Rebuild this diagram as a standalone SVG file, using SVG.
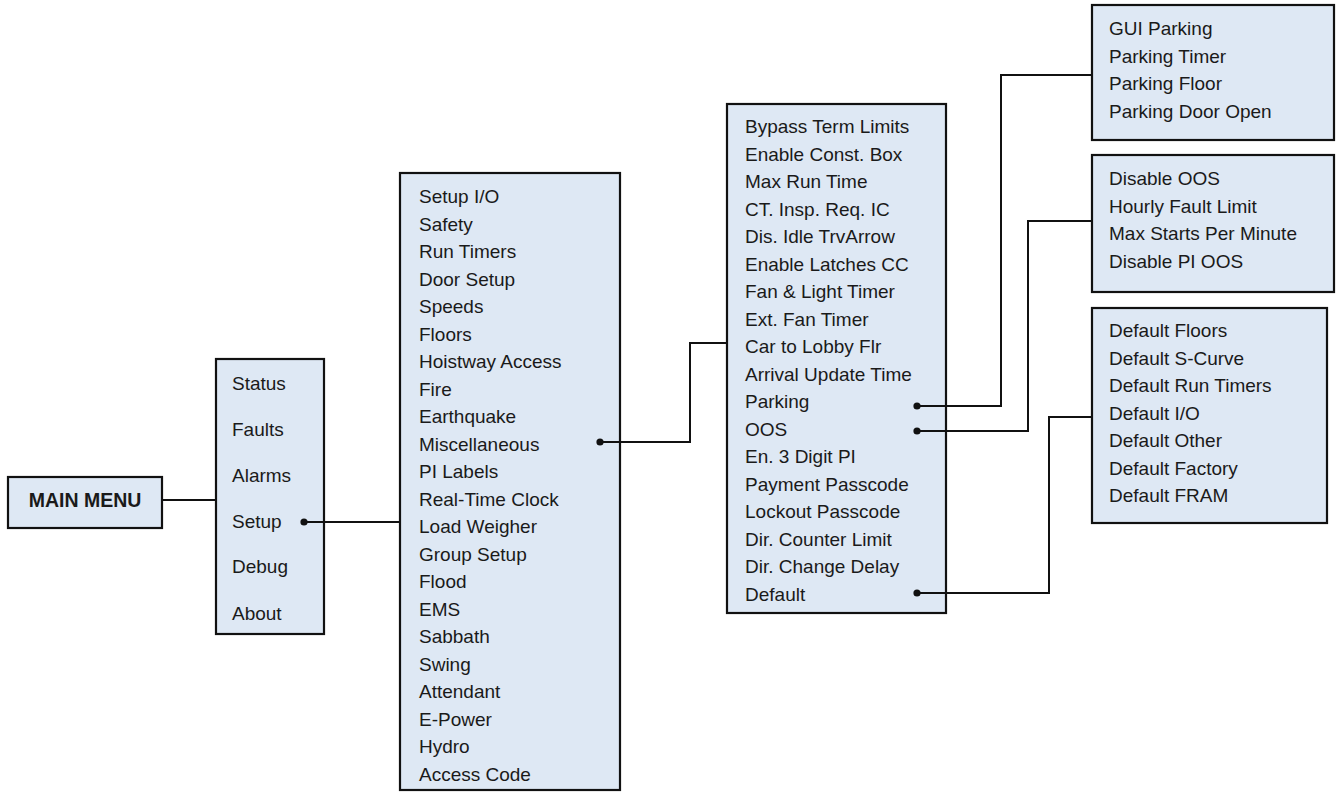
<svg xmlns="http://www.w3.org/2000/svg" width="1336" height="792" viewBox="0 0 1336 792">
<style>
.box{fill:#dee8f4;stroke:#111;stroke-width:2.2}
.t{font-family:"Liberation Sans",Arial,sans-serif;font-size:19px;fill:#1a1a1a}
.b{font-family:"Liberation Sans",Arial,sans-serif;font-size:19.5px;font-weight:bold;fill:#1a1a1a}
.c{fill:none;stroke:#111;stroke-width:2}
.d{fill:#111}
</style>
<rect width="1336" height="792" fill="#fff"/>
<g id="main-menu">
<rect class="box" x="8" y="477" width="154" height="51"/>
<text class="b" x="85" y="507" text-anchor="middle">MAIN MENU</text>
</g>
<g id="top-menu">
<rect class="box" x="216" y="359" width="108" height="275"/>
<text class="t" x="232" y="390">Status</text>
<text class="t" x="232" y="436">Faults</text>
<text class="t" x="232" y="482">Alarms</text>
<text class="t" x="232" y="528">Setup</text>
<text class="t" x="232" y="573">Debug</text>
<text class="t" x="232" y="620">About</text>
</g>
<g id="setup-menu">
<rect class="box" x="400" y="173" width="220" height="617"/>
<text class="t" x="419" y="203">Setup I/O</text>
<text class="t" x="419" y="230.5">Safety</text>
<text class="t" x="419" y="258">Run Timers</text>
<text class="t" x="419" y="285.5">Door Setup</text>
<text class="t" x="419" y="313">Speeds</text>
<text class="t" x="419" y="340.5">Floors</text>
<text class="t" x="419" y="368">Hoistway Access</text>
<text class="t" x="419" y="395.5">Fire</text>
<text class="t" x="419" y="423">Earthquake</text>
<text class="t" x="419" y="450.5">Miscellaneous</text>
<text class="t" x="419" y="478">PI Labels</text>
<text class="t" x="419" y="505.5">Real-Time Clock</text>
<text class="t" x="419" y="533">Load Weigher</text>
<text class="t" x="419" y="560.5">Group Setup</text>
<text class="t" x="419" y="588">Flood</text>
<text class="t" x="419" y="615.5">EMS</text>
<text class="t" x="419" y="643">Sabbath</text>
<text class="t" x="419" y="670.5">Swing</text>
<text class="t" x="419" y="698">Attendant</text>
<text class="t" x="419" y="725.5">E-Power</text>
<text class="t" x="419" y="753">Hydro</text>
<text class="t" x="419" y="780.5">Access Code</text>
</g>
<g id="misc-menu">
<rect class="box" x="727" y="104" width="219" height="509"/>
<text class="t" x="745" y="133">Bypass Term Limits</text>
<text class="t" x="745" y="160.5">Enable Const. Box</text>
<text class="t" x="745" y="188">Max Run Time</text>
<text class="t" x="745" y="215.5">CT. Insp. Req. IC</text>
<text class="t" x="745" y="243">Dis. Idle TrvArrow</text>
<text class="t" x="745" y="270.5">Enable Latches CC</text>
<text class="t" x="745" y="298">Fan &amp; Light Timer</text>
<text class="t" x="745" y="325.5">Ext. Fan Timer</text>
<text class="t" x="745" y="353">Car to Lobby Flr</text>
<text class="t" x="745" y="380.5">Arrival Update Time</text>
<text class="t" x="745" y="408">Parking</text>
<text class="t" x="745" y="435.5">OOS</text>
<text class="t" x="745" y="463">En. 3 Digit PI</text>
<text class="t" x="745" y="490.5">Payment Passcode</text>
<text class="t" x="745" y="518">Lockout Passcode</text>
<text class="t" x="745" y="545.5">Dir. Counter Limit</text>
<text class="t" x="745" y="573">Dir. Change Delay</text>
<text class="t" x="745" y="600.5">Default</text>
</g>
<g id="parking-menu">
<rect class="box" x="1092" y="5" width="242" height="135"/>
<text class="t" x="1109" y="35">GUI Parking</text>
<text class="t" x="1109" y="62.5">Parking Timer</text>
<text class="t" x="1109" y="90">Parking Floor</text>
<text class="t" x="1109" y="117.5">Parking Door Open</text>
</g>
<g id="oos-menu">
<rect class="box" x="1092" y="155" width="242" height="137"/>
<text class="t" x="1109" y="185">Disable OOS</text>
<text class="t" x="1109" y="212.5">Hourly Fault Limit</text>
<text class="t" x="1109" y="240">Max Starts Per Minute</text>
<text class="t" x="1109" y="267.5">Disable PI OOS</text>
</g>
<g id="default-menu">
<rect class="box" x="1092" y="308" width="235" height="215"/>
<text class="t" x="1109" y="337">Default Floors</text>
<text class="t" x="1109" y="364.5">Default S-Curve</text>
<text class="t" x="1109" y="392">Default Run Timers</text>
<text class="t" x="1109" y="419.5">Default I/O</text>
<text class="t" x="1109" y="447">Default Other</text>
<text class="t" x="1109" y="474.5">Default Factory</text>
<text class="t" x="1109" y="502">Default FRAM</text>
</g>
<g id="connectors">
<path class="c" d="M162 500H216"/>
<path class="c" d="M304 522H400"/>
<path class="c" d="M600 442H690V343H727"/>
<path class="c" d="M917 406H1001V75H1092"/>
<path class="c" d="M917 431H1028V221H1092"/>
<path class="c" d="M917 593H1049V417H1092"/>
<circle class="d" cx="304" cy="522" r="3.6"/>
<circle class="d" cx="600" cy="442" r="3.6"/>
<circle class="d" cx="917" cy="406" r="3.6"/>
<circle class="d" cx="917" cy="431" r="3.6"/>
<circle class="d" cx="917" cy="593" r="3.6"/>
</g>
</svg>
